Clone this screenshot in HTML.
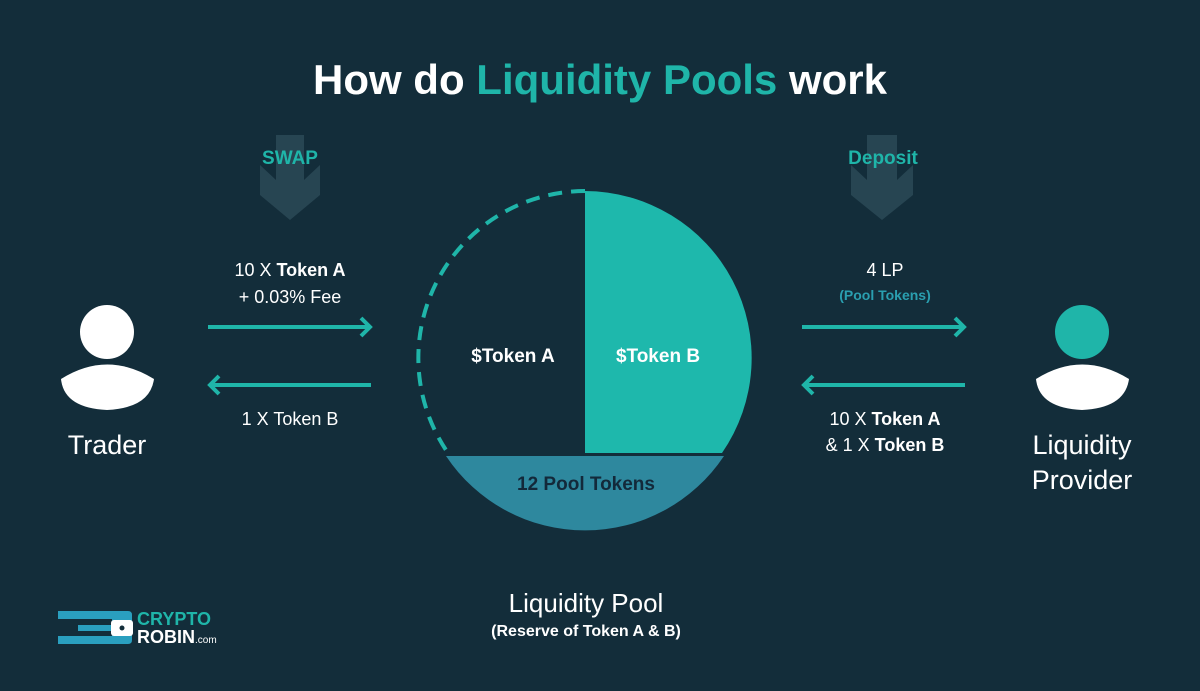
<!DOCTYPE html>
<html><head><meta charset="utf-8"><style>
html,body{margin:0;padding:0;background:#132d3a;}
svg{display:block;font-family:"Liberation Sans",sans-serif;}
</style></head><body>
<svg width="1200" height="691" viewBox="0 0 1200 691">
<rect width="1200" height="691" fill="#132d3a"/>
<text x="600" y="94" text-anchor="middle" font-size="42" font-weight="bold" fill="#fff">How do <tspan fill="#1fb5a9">Liquidity Pools</tspan> work</text>

<path d="M276 135 H304 V180 L320 165 V195 L290 220 L260 195 V165 L276 180 Z" fill="#274552"/>
<path d="M867 135 H897 V180 L913 165 V195 L882 220 L851 195 V165 L867 180 Z" fill="#274552"/>
<text x="290" y="164" text-anchor="middle" font-size="19" font-weight="bold" fill="#1fb5a9">SWAP</text>
<text x="883" y="164" text-anchor="middle" font-size="19" font-weight="bold" fill="#1fb5a9">Deposit</text>

<g>
<circle cx="107" cy="332" r="27" fill="#fff"/>
<path d="M61 379 Q107 350 154 379 Q150 408 107 410 Q64 408 61 379 Z" fill="#fff"/>
</g>
<text x="107" y="454" text-anchor="middle" font-size="27" fill="#fff">Trader</text>

<g>
<circle cx="1082" cy="332" r="27" fill="#1fb5a9"/>
<path d="M1036 379 Q1082 350 1129 379 Q1125 408 1082 410 Q1039 408 1036 379 Z" fill="#fff"/>
</g>
<text x="1082" y="454" text-anchor="middle" font-size="27" fill="#fff">Liquidity</text>
<text x="1082" y="489" text-anchor="middle" font-size="27" fill="#fff">Provider</text>

<g stroke="#1fb5a9" stroke-width="4" fill="none" stroke-linejoin="miter">
<g><line x1="208" y1="327" x2="369" y2="327"/><polyline points="361,318 370,327 361,336"/></g>
<g><line x1="212" y1="385" x2="371" y2="385"/><polyline points="219,376 210,385 219,394"/></g>
<g><line x1="802" y1="327" x2="963" y2="327"/><polyline points="955,318 964,327 955,336"/></g>
<g><line x1="806" y1="385" x2="965" y2="385"/><polyline points="813,376 804,385 813,394"/></g>
</g>

<g font-size="18" fill="#fff" text-anchor="middle">
<text x="290" y="276">10 X <tspan font-weight="bold">Token A</tspan></text>
<text x="290" y="303">+ 0.03% Fee</text>
<text x="290" y="425">1 X Token B</text>
<text x="885" y="276">4 LP</text>
<text x="885" y="425">10 X <tspan font-weight="bold">Token A</tspan></text>
<text x="885" y="451">&amp; 1 X <tspan font-weight="bold">Token B</tspan></text>
</g>
<text x="885" y="300" text-anchor="middle" font-size="14" font-weight="bold" fill="#2a9fb0">(Pool Tokens)</text>

<g>
<path d="M585 191 A167 167 0 0 1 722 453 L585 453 Z" fill="#1eb8ac"/>
<path d="M446 456 L724 456 A167 167 0 0 1 446 456 Z" fill="#2e889e"/>
<path d="M585 191 A167 167 0 0 0 448 453" fill="none" stroke="#1fb5a9" stroke-width="4" stroke-dasharray="14 9"/>
</g>
<text x="513" y="362" text-anchor="middle" font-size="19" font-weight="bold" fill="#fff">$Token A</text>
<text x="658" y="362" text-anchor="middle" font-size="19" font-weight="bold" fill="#fff">$Token B</text>
<text x="586" y="490" text-anchor="middle" font-size="19" font-weight="bold" fill="#13293a">12 Pool Tokens</text>

<text x="586" y="612" text-anchor="middle" font-size="26" fill="#fff">Liquidity Pool</text>
<text x="586" y="636" text-anchor="middle" font-size="16" font-weight="bold" fill="#fff">(Reserve of Token A &amp; B)</text>

<g>
<path d="M58 611 H128 Q132 611 132 615 V640 Q132 644 128 644 H58 V636 H112 V631 H78 V625 H112 V619 H58 Z" fill="#2a9fbf"/>
<rect x="111" y="620" width="22" height="16" rx="3" fill="#fff"/>
<circle cx="122" cy="628" r="2.5" fill="#132d3a"/>
<text x="137" y="625" font-size="18" font-weight="bold" fill="#1fb5a9">CRYPTO</text>
<text x="137" y="643" font-size="18" font-weight="bold" fill="#fff">ROBIN<tspan font-size="10" font-weight="normal">.com</tspan></text>
</g>
</svg>
</body></html>
